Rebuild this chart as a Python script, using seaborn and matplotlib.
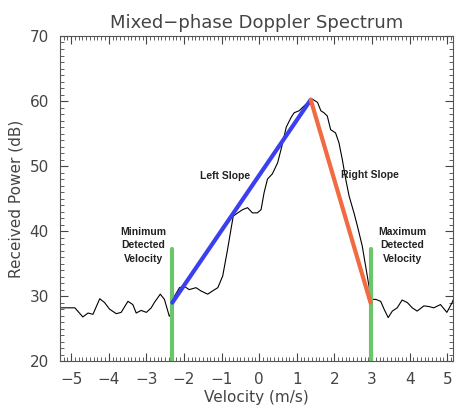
import numpy as np
import pandas as pd
import matplotlib
matplotlib.use("Agg")
import matplotlib.pyplot as plt
import seaborn as sns
from matplotlib.ticker import MultipleLocator

sns.set_style("white")
plt.rcParams['font.family'] = ['DejaVu Sans']

# Doppler spectrum
velocity = [-5.3, -4.9, -4.69, -4.55, -4.42, -4.24, -4.11, -3.98, -3.80, -3.67,
            -3.49, -3.36, -3.27, -3.14, -3.00, -2.87, -2.79, -2.63, -2.52, -2.39,
            -2.33, -2.25, -2.12, -1.99, -1.86, -1.68, -1.55, -1.37, -1.24, -1.10,
            -0.97, -0.84, -0.75, -0.69, -0.57, -0.44, -0.31, -0.18, -0.05, 0.05,
            0.13, 0.22, 0.35, 0.49, 0.60, 0.72, 0.85, 0.93, 1.06, 1.24,
            1.41, 1.55, 1.64, 1.72, 1.81, 1.90, 2.03, 2.12, 2.21, 2.30,
            2.39, 2.52, 2.61, 2.74, 2.83, 2.92, 2.96, 3.10, 3.23, 3.32,
            3.43, 3.54, 3.67, 3.80, 3.94, 4.07, 4.20, 4.38, 4.51, 4.64,
            4.82, 4.99, 5.13, 5.2]
power = [28.2, 28.2, 26.8, 27.4, 27.2, 29.6, 29.0, 28.0, 27.3, 27.5,
         29.2, 28.7, 27.4, 27.8, 27.5, 28.2, 29.0, 30.3, 29.5, 26.9,
         27.4, 30.0, 31.3, 31.5, 31.0, 31.3, 30.8, 30.3, 30.8, 31.3,
         33.1, 37.2, 40.3, 42.3, 42.8, 43.3, 43.6, 42.8, 42.8, 43.3,
         45.9, 48.0, 48.8, 50.5, 53.0, 56.0, 57.5, 58.2, 58.5, 59.5,
         60.3, 59.8, 58.5, 58.2, 57.7, 55.6, 55.1, 53.6, 51.0, 48.0,
         45.4, 42.8, 40.8, 37.7, 34.6, 31.5, 29.5, 29.5, 29.2, 28.0,
         26.7, 27.7, 28.2, 29.4, 29.0, 28.2, 27.7, 28.5, 28.4, 28.2,
         28.7, 27.5, 29.0, 30.0]

# slope end points
left_slope_v = [-2.31, 1.37]
left_slope_p = [29.0, 60.2]
right_slope_v = [1.37, 2.96]
right_slope_p = [60.2, 29.0]

# detected velocity markers
v_min, v_max = -2.31, 2.96
marker_bottom, marker_top = 20.0, 37.3

df = pd.DataFrame({'velocity': velocity, 'power': power})

fig = plt.figure(figsize=(4.57, 4.09), dpi=100)
ax = fig.add_axes([0.131, 0.117, 0.860, 0.795])

sns.lineplot(data=df, x='velocity', y='power', sort=False, estimator=None,
             color='black', linewidth=0.8, ax=ax)
for v in (v_min, v_max):
    sns.lineplot(x=[v, v], y=[marker_bottom, marker_top], estimator=None,
                 sort=False, color='#6cc46c', linewidth=3.0, ax=ax)
sns.lineplot(x=left_slope_v, y=left_slope_p, estimator=None,
             color='#3b3ff0', linewidth=3.0, ax=ax)
sns.lineplot(x=right_slope_v, y=right_slope_p, estimator=None,
             color='#f26a42', linewidth=3.0, ax=ax)

lab = dict(fontsize=7.5, fontweight='bold', family=['Liberation Sans', 'DejaVu Sans'],
           color='#222222', ha='center', va='center', linespacing=1.4)
ax.text(-0.9, 48.5, 'Left Slope', **lab)
ax.text(2.94, 48.6, 'Right Slope', **lab)
ax.text(-3.08, 37.8, 'Minimum\nDetected\nVelocity', **lab)
ax.text(3.8, 37.8, 'Maximum\nDetected\nVelocity', **lab)

ax.set_xlim(-5.3, 5.15)
ax.set_ylim(20, 70)
ax.xaxis.set_major_locator(MultipleLocator(1))
ax.xaxis.set_minor_locator(MultipleLocator(0.1))
ax.yaxis.set_major_locator(MultipleLocator(10))
ax.yaxis.set_minor_locator(MultipleLocator(1))
ax.tick_params(which='both', direction='in', bottom=True, left=True,
               top=True, right=True, colors='#444444', labelcolor='#444444',
               labelsize=11)
ax.tick_params(which='major', length=6, width=0.8, pad=8)
ax.tick_params(which='minor', length=3, width=0.6)
for s in ax.spines.values():
    s.set_color('#555555')
    s.set_linewidth(0.8)

ax.set_title('Mixed\u2212phase Doppler Spectrum', fontsize=13, color='#444444', pad=6)
ax.set_xlabel('Velocity (m/s)', fontsize=11, color='#444444', labelpad=2)
ax.set_ylabel('Received Power (dB)', fontsize=11, color='#444444', labelpad=4)

fig.savefig('out.png', dpi=100)
